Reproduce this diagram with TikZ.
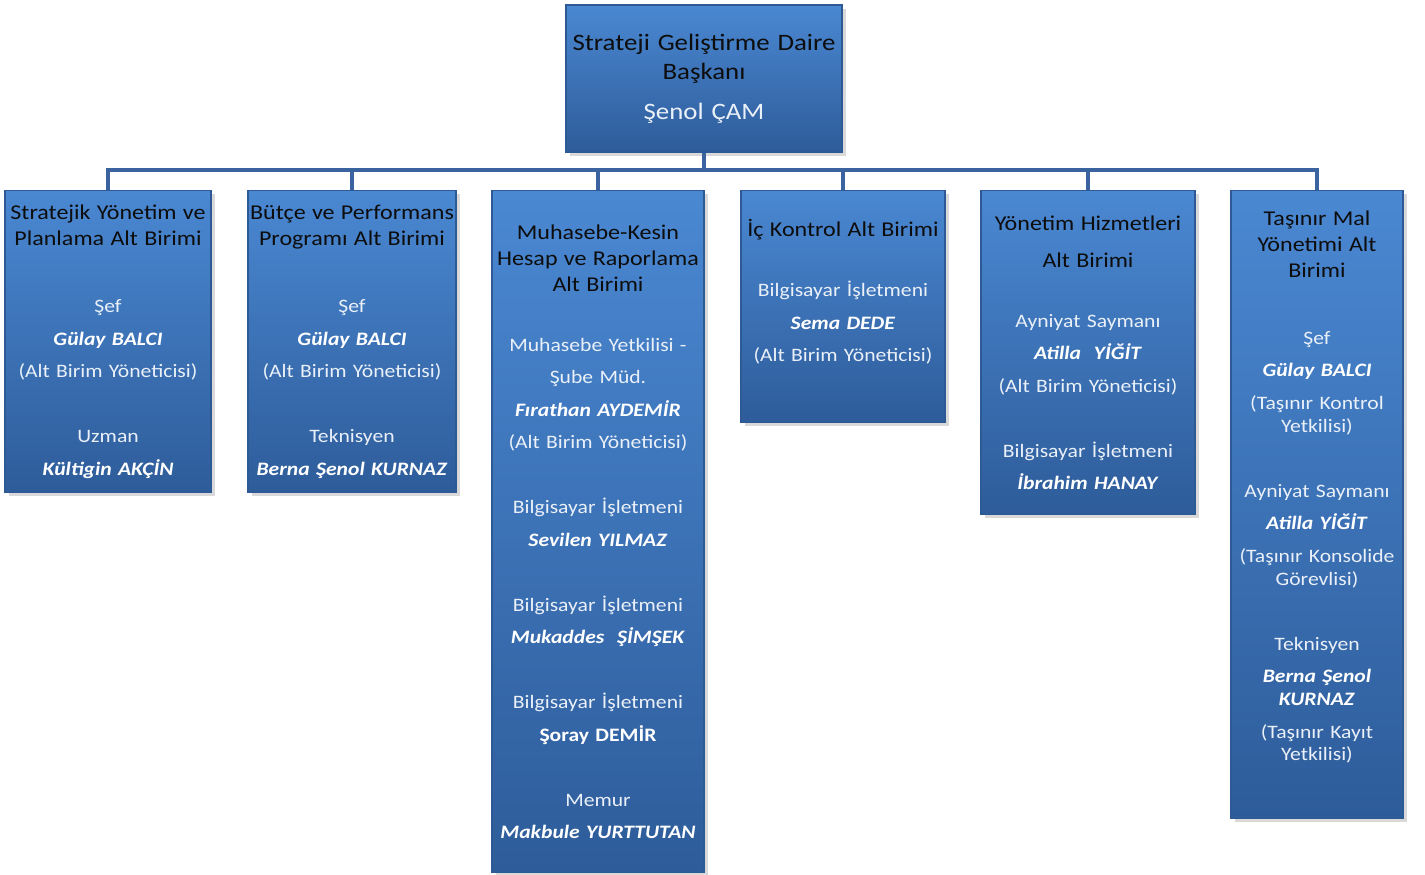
\documentclass[tikz,border=0pt]{standalone}
\usepackage{fontspec}
\setmainfont{Carlito}[FakeStretch=1.14]
\usetikzlibrary{shadows}
\definecolor{BoxTop}{HTML}{4A88D2}
\definecolor{BoxBottom}{HTML}{2E5C9A}
\definecolor{BoxEdge}{HTML}{2D5A94}
\definecolor{LinkBlue}{HTML}{3B63A0}
\definecolor{TitleText}{HTML}{0D0D0D}
\definecolor{BodyText}{HTML}{EAF0F8}
\newcommand{\persname}[1]{\textcolor{white}{\textbf{\textit{#1}}}}
\newcommand{\unittitle}{\fontsize{12}{14.8}\selectfont\color{TitleText}}
\tikzset{
    % Box style shared by all levels
    orgbox/.style={
        rectangle,
        draw=BoxEdge,
        line width=0.8pt,
        top color=BoxTop,
        bottom color=BoxBottom,
        drop shadow={shadow xshift=2pt, shadow yshift=-2pt, opacity=0.3},
        align=center,
        inner xsep=0pt,
        inner ysep=0pt,
        text=BodyText
    },
    % Head of the department
    headbox/.style={
        orgbox,
        minimum width=5.52cm,
        text width=5.52cm,
        minimum height=2.94cm,
        font=\fontsize{13.4}{16.5}\selectfont
    },
    % Sub unit box
    unitbox/.style={
        orgbox,
        anchor=north,
        font=\fontsize{10.8}{18.5}\selectfont
    },
    % Connector style
    link/.style={
        draw=LinkBlue,
        line width=2.3pt
    }
}
\begin{document}
\begin{tikzpicture}
    \useasboundingbox (0,0) rectangle (28.5,-17.48);

    % Head
    \node (head) [headbox] at (14.08,-1.57) {\color{TitleText}Strateji Geliştirme Daire\\ Başkanı\\[6.3pt] \color{BodyText}Şenol ÇAM};

    % Sub units
    \node (planning) [unitbox, minimum width=4.12cm, text width=4.12cm, minimum height=6.04cm] at (2.16,-3.8) {
        {\unittitle Stratejik Yönetim ve\\ Planlama Alt Birimi\par}
        \vspace{19.6pt}
        Şef\\ \persname{Gülay BALCI}\\ (Alt Birim Yöneticisi)\\[18.5pt]
        Uzman\\ \persname{Kültigin AKÇİN}};

    \node (budget) [unitbox, minimum width=4.16cm, text width=4.16cm, minimum height=6.04cm] at (7.04,-3.8) {
        {\unittitle Bütçe ve Performans\\ Programı Alt Birimi\par}
        \vspace{19.6pt}
        Şef\\ \persname{Gülay BALCI}\\ (Alt Birim Yöneticisi)\\[18.5pt]
        Teknisyen\\ \persname{Berna Şenol KURNAZ}};

    \node (accounting) [unitbox, minimum width=4.24cm, text width=4.24cm, minimum height=13.64cm] at (11.96,-3.8) {
        {\unittitle Muhasebe-Kesin\\ Hesap ve Raporlama\\ Alt Birimi\par}
        \vspace{15.6pt}
        Muhasebe Yetkilisi -\\ Şube Müd.\\ \persname{Fırathan AYDEMİR}\\ (Alt Birim Yöneticisi)\\[18.5pt]
        Bilgisayar İşletmeni\\ \persname{Sevilen YILMAZ}\\[18.5pt]
        Bilgisayar İşletmeni\\ \persname{Mukaddes\ \ ŞİMŞEK}\\[18.5pt]
        Bilgisayar İşletmeni\\ \textcolor{white}{\textbf{Şoray DEMİR}}\\[18.5pt]
        Memur\\ \persname{Makbule YURTTUTAN}};

    \node (control) [unitbox, minimum width=4.08cm, text width=4.08cm, minimum height=4.64cm] at (16.86,-3.8) {
        {\unittitle İç Kontrol Alt Birimi\par}
        \vspace{15.6pt}
        Bilgisayar İşletmeni\\ \persname{Sema DEDE}\\ (Alt Birim Yöneticisi)\par
        \vspace{17pt}};

    \node (services) [unitbox, minimum width=4.28cm, text width=4.28cm, minimum height=6.48cm] at (21.76,-3.8) {
        {\unittitle Yönetim Hizmetleri\\[6.3pt] Alt Birimi\par}
        \vspace{15.6pt}
        Ayniyat Saymanı\\ \persname{Atilla\ \ YİĞİT}\\ (Alt Birim Yöneticisi)\\[18.5pt]
        Bilgisayar İşletmeni\\ \persname{İbrahim HANAY}};

    \node (assets) [unitbox, minimum width=3.44cm, text width=3.44cm, minimum height=12.56cm] at (26.34,-3.8) {
        {\unittitle Taşınır Mal\\ Yönetimi Alt\\ Birimi\par}
        \vspace{19.6pt}
        Şef\\ \persname{Gülay BALCI}\\ (Taşınır Kontrol\\[-5.5pt] Yetkilisi)\\[18.5pt]
        Ayniyat Saymanı\\ \persname{Atilla YİĞİT}\\ (Taşınır Konsolide\\[-5.5pt] Görevlisi)\\[18.5pt]
        Teknisyen\\ \persname{Berna Şenol}\\[-5.5pt] \persname{KURNAZ}\\ (Taşınır Kayıt\\[-5.5pt] Yetkilisi)\par
        \vspace{20pt}};

    % Connectors
    \coordinate (bus) at (14.08,-3.4);
    \draw [link] (head.south) -- (bus);
    \foreach \unit in {planning, budget, accounting, control, services, assets}
        \draw [link] (bus) -| (\unit.north);
\end{tikzpicture}
\end{document}
